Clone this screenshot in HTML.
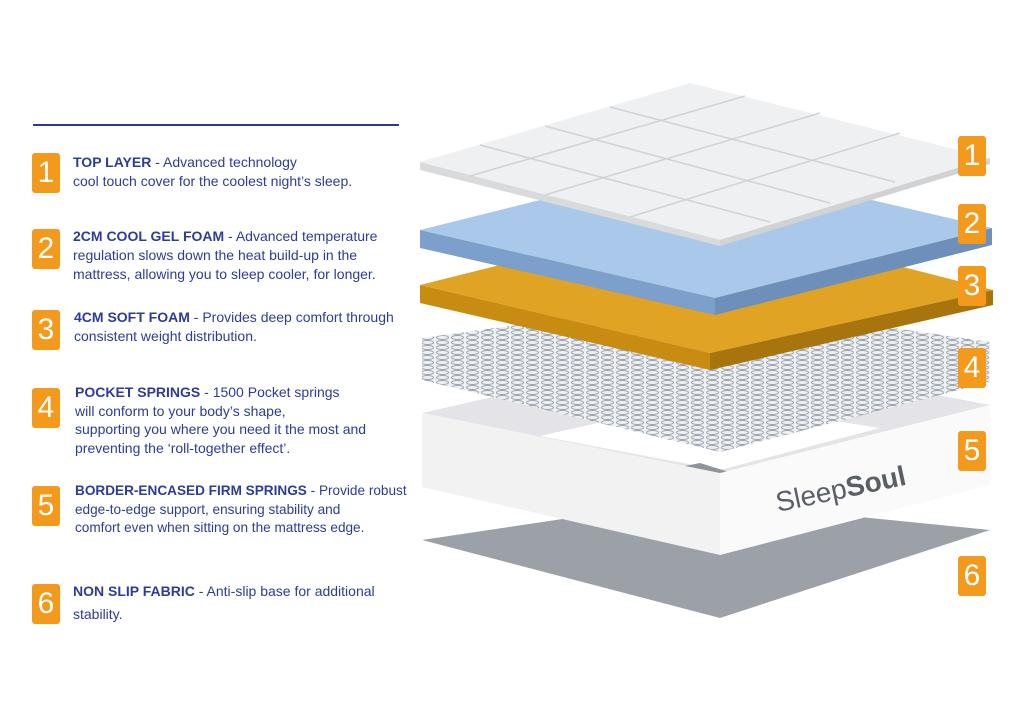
<!DOCTYPE html>
<html><head><meta charset="utf-8"><style>
body{margin:0;width:1024px;height:724px;background:#fff;overflow:hidden;position:relative;font-family:"Liberation Sans",sans-serif;}
.b{position:absolute;width:28px;height:40px;background:#f39a1d;border-radius:3px;color:#fff;font-size:30px;text-align:center;line-height:40px;}
.t{position:absolute;color:#2c3c99;font-size:14px;line-height:18.5px;white-space:nowrap;}
.t b{font-weight:bold;}
</style></head><body>
<div style="position:absolute;left:33px;top:124px;width:366px;height:2px;background:#2a3a8f"></div>
<div class="b" style="left:32px;top:153px">1</div>
<div class="b" style="left:32px;top:229px">2</div>
<div class="b" style="left:32px;top:310px">3</div>
<div class="b" style="left:32px;top:388px">4</div>
<div class="b" style="left:32px;top:486px">5</div>
<div class="b" style="left:32px;top:584px">6</div>
<div class="t" style="left:73px;top:153px"><b>TOP LAYER</b> - Advanced technology<br>cool touch cover for the coolest night’s sleep.</div>
<div class="t" style="left:73px;top:227px;line-height:19px"><b>2CM COOL GEL FOAM</b> - Advanced temperature<br>regulation slows down the heat build-up in the<br>mattress, allowing you to sleep cooler, for longer.</div>
<div class="t" style="left:74px;top:308px"><b>4CM SOFT FOAM</b> - Provides deep comfort through<br>consistent weight distribution.</div>
<div class="t" style="left:75px;top:383px"><b>POCKET SPRINGS</b> - 1500 Pocket springs<br>will conform to your body’s shape,<br>supporting you where you need it the most and<br>preventing the ‘roll-together effect’.</div>
<div class="t" style="left:75px;top:482px;font-size:13.6px"><b>BORDER-ENCASED FIRM SPRINGS</b> - Provide robust<br>edge-to-edge support, ensuring stability and<br>comfort even when sitting on the mattress edge.</div>
<div class="t" style="left:73px;top:580px;line-height:23px"><b>NON SLIP FABRIC</b> - Anti-slip base for additional<br>stability.</div>

<svg style="position:absolute;left:0;top:0" width="1024" height="724">
<defs>
<pattern id="sp" width="15" height="5" patternUnits="userSpaceOnUse">
<ellipse cx="7.5" cy="2.5" rx="6" ry="2" fill="none" stroke="#9ca5af" stroke-width="1"/>
</pattern>
</defs>
<!-- base 6 -->
<polygon points="422,540 690,500 990,530 720,618" fill="#9ba1a7"/>
<!-- box 5 -->
<polygon points="422,413 700,350 990,405 720,473" fill="#e4e4e8"/>
<polygon points="540,436 700,400 880,428 720,470" fill="#fff"/>
<polygon points="665,470 700,463 745,477 710,487" fill="#8e949a"/>
<polygon points="422,413 720,473 720,555 422,487" fill="#f2f2f2"/>
<polygon points="720,473 990,405 990,485 720,555" fill="#fafafa"/>
<text x="778" y="512" font-family="Liberation Sans,sans-serif" font-size="28" fill="#5a5f66" transform="rotate(-12 778 512)">Sleep<tspan font-weight="bold">Soul</tspan></text>
<!-- springs -->
<polygon points="422,338 700,300 990,342 990,382 720,452 422,380" fill="#eef0f3"/>
<polygon points="422,338 700,300 990,342 990,382 720,452 422,380" fill="url(#sp)"/>
<!-- orange 3 -->
<polygon points="420,285 710,353 710,370 420,303" fill="#c98c12"/>
<polygon points="710,353 993,290 993,305 710,370" fill="#a8740e"/>
<polygon points="420,285 700,215 993,290 710,353" fill="#e0a324"/>
<!-- blue 2 -->
<polygon points="420,230 715,298 715,315 420,248" fill="#7c9fcb"/>
<polygon points="715,298 992,228 992,245 715,315" fill="#6d8fba"/>
<polygon points="420,230 700,160 992,228 715,298" fill="#a9c8ea"/>
<!-- top 1 -->
<polygon points="420,162 720,240 720,246 420,170" fill="#d8dadc"/>
<polygon points="720,240 990,158 990,164 720,246" fill="#d0d2d4"/>
<polygon points="420,162 690,83 990,158 720,240" fill="#eef0f2"/>
<g stroke="#cfd3d7" fill="none" stroke-width="1.5">
<line x1="480" y1="145" x2="770" y2="222"/><line x1="545" y1="126" x2="830" y2="203"/><line x1="610" y1="107" x2="895" y2="182"/>
<line x1="470" y1="176" x2="745" y2="96"/><line x1="545" y1="195" x2="820" y2="113"/><line x1="630" y1="217" x2="900" y2="133"/>
</g>
</svg>
<div class="b" style="left:958px;top:136px">1</div>
<div class="b" style="left:958px;top:204px">2</div>
<div class="b" style="left:958px;top:266px">3</div>
<div class="b" style="left:958px;top:348px">4</div>
<div class="b" style="left:958px;top:431px">5</div>
<div class="b" style="left:958px;top:556px">6</div>
</body></html>
